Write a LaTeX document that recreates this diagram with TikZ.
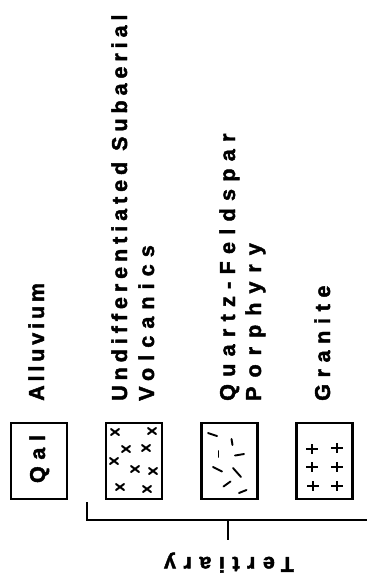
\documentclass[tikz,border=0pt]{standalone}
\usepackage{fontspec}
\setmainfont{Liberation Sans}
\newcommand\lblfont[1]{\fontspec{Liberation Sans Bold}[LetterSpace=#1,FakeBold=2]\fontsize{21.5}{27}\selectfont}
\begin{document}
\begin{tikzpicture}[x=1pt,y=-1pt,
  lbl/.style={rotate=90,anchor=base west,inner sep=0pt},
  unitbox/.style={draw,line width=2.4pt,minimum width=56pt,minimum height=76pt,inner sep=0pt},
  xmark/.style={line width=2pt,line cap=round},
  dashmark/.style={line width=1.9pt,line cap=round},
  plusmark/.style={line width=2.4pt},
  brk/.style={line width=2.4pt}]
\useasboundingbox (0,0) rectangle (367,577);

% unit boxes
\node[unitbox] (qalbox) at (39,461) {};
\node[unitbox] (volcbox) at (134,461) {};
\node[unitbox] (porphbox) at (229.5,461) {};
\node[unitbox] (granbox) at (324.5,461) {};

% text in Qal box
\node[rotate=90,anchor=base,inner sep=0pt] (qal) at (45,459) {\lblfont{31}Qal};

% labels
\node[lbl] (allu) at (44,401) {\lblfont{18}Alluvium};
\node[lbl] (undif) at (127,401) {\lblfont{23}Undifferentiated Subaerial};
\node[lbl] (volc) at (154,401) {\lblfont{33}Volcanics};
\node[lbl] (qf) at (235,401) {\lblfont{34}Quartz-Feldspar};
\node[lbl] (porph) at (261,401) {\lblfont{42}Porphyry};
\node[lbl] (gran) at (330,401) {\lblfont{31}Granite};

% volcanic x marks
\foreach \px/\py in {115/432,152/431,126/449,146/448,114/461,135/469,153/471,120/487,147/489}{
  \draw[xmark] (\px-4,\py-3) -- (\px+4,\py+3);
  \draw[xmark] (\px-4,\py+3) -- (\px+4,\py-3);
}

% porphyry dashes
\draw[dashmark] (208,433) -- (217,436);
\draw[dashmark] (231.5,439) -- (232.5,445);
\draw[dashmark] (218.5,451) -- (218.5,457);
\draw[dashmark] (235,455.5) -- (244,454);
\draw[dashmark] (213,467) -- (222,471.5);
\draw[dashmark] (233,468) -- (241,477);
\draw[dashmark] (223.5,486.5) -- (230.5,481.5);
\draw[dashmark] (239,493) -- (246.5,490);

% granite pluses
\foreach \px/\py in {312/449,337/448,312/467,337/467,313/486,337/486}{
  \draw[plusmark] (\px-6,\py) -- (\px+6,\py);
  \draw[plusmark] (\px,\py-5) -- (\px,\py+5);
}

% bracket
\coordinate (bktop) at (87,502);
\coordinate (bkcorner) at (87,520);
\coordinate (bkend) at (367,520);
\coordinate (bkmid) at (228,520);
\coordinate (bkstem) at (228,540);
\draw[brk] (bktop) -- (bkcorner) -- (bkend);
\draw[brk] (bkmid) -- (bkstem);

% Tertiary, upside down
\node[rotate=180,anchor=base,inner sep=0pt] (tert) at (229,557) {\lblfont{35}Tertiary};
\end{tikzpicture}
\end{document}
